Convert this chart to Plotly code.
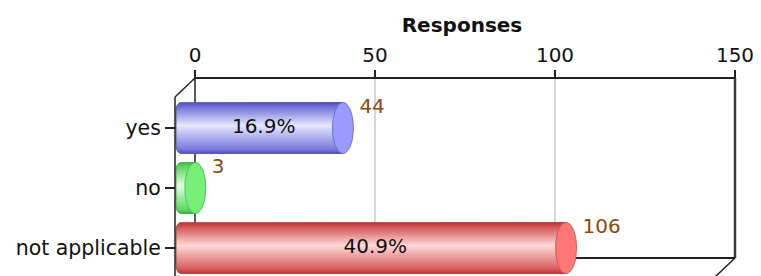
import numpy as np
import plotly.graph_objects as go

# ---------------- data ----------------
categories = ["yes", "no", "not applicable"]
responses = [44, 3, 106]
percent_labels = ["16.9%", "", "40.9%"]
x_ticks = [0, 50, 100, 150]
chart_title = "Responses"

# ---------------- styling / geometry ----------------
W, H = 761, 276
X0_PX, PX_PER_UNIT = 195, 3.6          # back-plane x of value 0, px per unit
Y0_PX, PX_PER_CAT = 128, 60            # pixel of first category, px per category
TOP_PX, BOT_PX = 78, 258               # back plane top / bottom
DEPTH_X, DEPTH_Y = 20, 19              # 3D depth offset (px)

ux = 1.0 / PX_PER_UNIT
uy = 1.0 / PX_PER_CAT
x_range = [-X0_PX * ux, (W - X0_PX) * ux]
y_range = [(H - Y0_PX) * uy, -Y0_PX * uy]      # reversed
back_top = (TOP_PX - Y0_PX) * uy
back_bot = (BOT_PX - Y0_PX) * uy
dx = DEPTH_X * ux
dy = DEPTH_Y * uy
x_min_t, x_max_t = min(x_ticks), max(x_ticks)

body_scales = [
    [[0, "#4e4eb8"], [0.08, "#7070da"], [0.45, "#e6e6ff"], [0.92, "#7878de"], [1, "#4e4eb8"]],
    [[0, "#3cb43c"], [0.08, "#5cd65c"], [0.45, "#e0ffe0"], [0.92, "#60d860"], [1, "#3cb43c"]],
    [[0, "#b83232"], [0.08, "#d25252"], [0.45, "#ffd8d8"], [0.92, "#d65a5a"], [1, "#b83232"]],
]
edge_cols = ["#5a5ab8", "#44b044", "#b84444"]
cap_fill = ["#9a9aff", "#78f078", "#ff7676"]
cap_edge = ["#6e6ed0", "#50c050", "#d05a5a"]

FONT = "DejaVu Sans"
half_h = 25.5 * uy
cap_a = 10.5 * ux
rx, ry = 5 * ux, 8 * uy

fig = go.Figure()

for i, (cat, v) in enumerate(zip(categories, responses)):
    yc = i
    cx = v - cap_a                      # cap centre (mid depth)
    xl = -dx + 1 * ux                   # bar starts at front plane
    top, bot = yc - half_h, yc + half_h
    xs, ys = [cx], [top]
    for t in np.linspace(1.5 * np.pi, np.pi, 8):        # top-left corner
        xs.append(xl + rx + rx * np.cos(t))
        ys.append(top + ry + ry * np.sin(t))
    for t in np.linspace(np.pi, 0.5 * np.pi, 8):        # bottom-left corner
        xs.append(xl + rx + rx * np.cos(t))
        ys.append(bot - ry + ry * np.sin(t))
    xs.append(cx); ys.append(bot)
    xs.append(cx); ys.append(top)
    fig.add_trace(go.Scatter(
        x=xs, y=ys, mode="lines", fill="toself",
        fillgradient=dict(type="vertical", colorscale=body_scales[i], start=top, stop=bot),
        line=dict(color=edge_cols[i], width=1),
        hoverinfo="skip", showlegend=False))
    # end cap ellipse
    th = np.linspace(0, 2 * np.pi, 60)
    fig.add_trace(go.Scatter(
        x=cx + cap_a * np.cos(th), y=yc + half_h * np.sin(th),
        mode="lines", fill="toself", fillcolor=cap_fill[i],
        line=dict(color=cap_edge[i], width=1),
        hoverinfo="skip", showlegend=False))

# percentage labels inside bars
fig.add_trace(go.Scatter(
    x=[v / 2 - cap_a for v in responses], y=list(range(len(categories))),
    mode="text", text=percent_labels, textposition="middle center",
    textfont=dict(family=FONT, size=20, color="#111111"),
    hoverinfo="skip", showlegend=False, cliponaxis=False))

# value labels
fig.add_trace(go.Scatter(
    x=[v + 6 * ux for v in responses], y=[i - 20 * uy for i in range(len(categories))],
    mode="text", text=[str(v) for v in responses], textposition="middle right",
    textfont=dict(family=FONT, size=20, color="#8a4a12"),
    hoverinfo="skip", showlegend=False, cliponaxis=False))

# ---------------- 3D frame ----------------
shapes = []
def seg(x0, y0, x1, y1, color="#222222", width=2, layer="below"):
    shapes.append(dict(type="line", xref="x", yref="y", x0=x0, y0=y0, x1=x1, y1=y1,
                       line=dict(color=color, width=width), layer=layer))

for t in x_ticks[1:-1]:
    seg(t, back_top, t, back_bot, color="#c8c8c8", width=1.5)
seg(x_min_t, back_top, x_min_t, back_bot, width=1.5)
seg(x_max_t, back_top, x_max_t, back_bot, color="#3a3a3a", width=2.5)
seg(x_min_t, back_bot, x_max_t, back_bot, width=2)
seg(x_min_t, back_top, x_max_t, back_top, width=2)
seg(x_min_t, back_top, x_min_t - dx, back_top + dy, width=1.5)
seg(x_max_t, back_bot, x_max_t - dx, back_bot + dy, width=1.5)
seg(x_min_t - dx, back_top + dy, x_min_t - dx, y_range[0] + 1, width=1.5, layer="above")

fig.update_layout(
    width=W, height=H,
    margin=dict(l=0, r=0, t=0, b=0),
    paper_bgcolor="white", plot_bgcolor="white",
    shapes=shapes,
    title=dict(text=chart_title, x=462 / W, y=1 - 25 / H, xanchor="center", yanchor="middle",
               font=dict(family=FONT, size=20, color="#111111", weight="bold")),
    xaxis=dict(range=x_range, domain=[0, 1], anchor="free", position=1 - TOP_PX / H, side="top",
               tickmode="array", tickvals=x_ticks, ticktext=[str(t) for t in x_ticks],
               ticks="outside", ticklen=8, tickwidth=1.5, tickcolor="#222222",
               showgrid=False, zeroline=False, showline=False,
               tickfont=dict(family=FONT, size=20, color="#111111")),
    yaxis=dict(range=y_range, domain=[0, 1], anchor="free", position=(X0_PX - DEPTH_X) / W,
               side="left", tickmode="array", tickvals=list(range(len(categories))),
               ticktext=categories, ticks="outside", ticklen=10, tickwidth=1.5,
               tickcolor="#222222", showgrid=False, zeroline=False, showline=False,
               tickfont=dict(family=FONT, size=20.5, color="#111111")),
)

fig.write_html("out.html", config={"displayModeBar": False},
               post_script="document.body.style.margin='0';document.body.style.overflow='hidden';")
